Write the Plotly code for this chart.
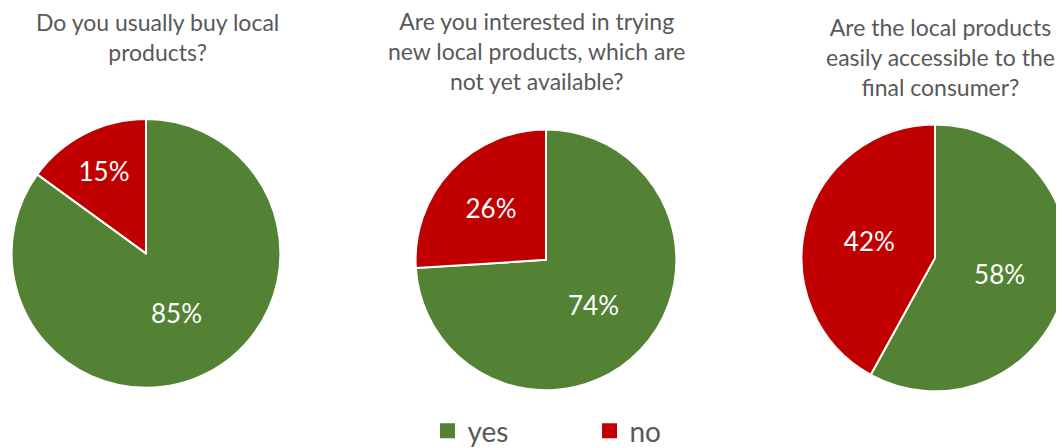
import plotly.graph_objects as go

labels = ["yes", "no"]
q1_values = [85, 15]
q2_values = [74, 26]
q3_values = [58, 42]
titles = [
    "Do you usually buy local<br>products?",
    "Are you interested in trying<br>new local products, which are<br>not yet available?",
    "Are the local products<br>easily accessible to the<br>final consumer?",
]
colors = ["#548235", "#C00000"]
FONT = "Lato, Carlito, Calibri, sans-serif"
GRAY = "#595959"
W, H = 1064, 448
OFF = 8  # default page body margin


def px_x(v):
    return (v - OFF) / W


def px_y(v):
    return 1 - (v - OFF) / H


# pie geometry in screen px: (center x, center y, radius)
geom = [(146, 254.5, 135), (546, 261, 131), (935, 259, 134)]

fig = go.Figure()
for i, vals in enumerate([q1_values, q2_values, q3_values]):
    cx, cy, r = geom[i]
    fig.add_trace(go.Pie(
        labels=labels, values=vals,
        domain=dict(x=[px_x(cx - r), px_x(cx + r)], y=[px_y(cy + r), px_y(cy - r)]),
        sort=False, direction="clockwise", rotation=0,
        marker=dict(colors=colors, line=dict(color="white", width=2)),
        textinfo="percent", textposition="inside",
        insidetextorientation="horizontal",
        textfont=dict(family=FONT, size=26, color="white"),
        showlegend=False, hoverinfo="label+percent",
    ))

for lab, col in zip(labels, colors):
    fig.add_trace(go.Scatter(x=[None], y=[None], mode="markers", name=lab,
                             marker=dict(symbol="square", size=15, color=col),
                             showlegend=True))

title_pos = [(157, 37.5), (537, 51.5), (940, 57.5)]
for (x, y), t in zip(title_pos, titles):
    fig.add_annotation(text=t, x=px_x(x), y=px_y(y), xref="paper", yref="paper",
                       xanchor="center", yanchor="middle", showarrow=False,
                       font=dict(family=FONT, size=23, color=GRAY), align="center")

fig.update_layout(
    width=W, height=H,
    margin=dict(l=0, r=0, t=0, b=0),
    paper_bgcolor="white", plot_bgcolor="white",
    xaxis=dict(visible=False), yaxis=dict(visible=False),
    legend=dict(orientation="h", x=px_x(449.5 - 22), xanchor="left",
                y=px_y(433), yanchor="middle",
                font=dict(family=FONT, size=28, color=GRAY),
                entrywidth=117, itemsizing="trace", bgcolor="rgba(0,0,0,0)"),
)
fig.write_html("out.html", config={"displayModeBar": False})
